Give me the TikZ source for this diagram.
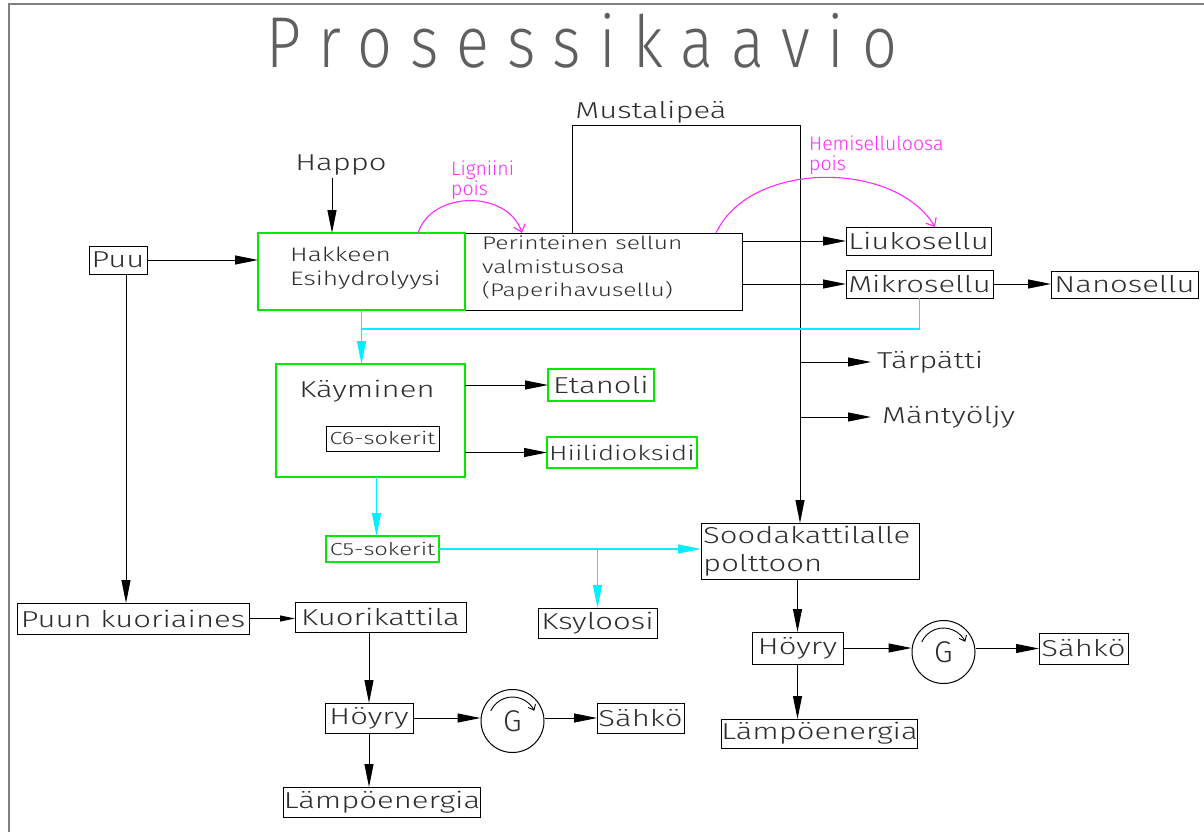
\documentclass[tikz,border=0pt]{standalone}
\usepackage{fontspec}
\setmainfont{Fira Sans Light}[FakeStretch=1.35]
\newfontfamily\pinkfont{Fira Sans Light}
\newfontfamily\titlefont{Fira Sans Light}[FakeStretch=0.85,LetterSpace=25]
\usetikzlibrary{arrows.meta,positioning}

\definecolor{cadgreen}{RGB}{0,235,0}
\definecolor{cadcyan}{RGB}{0,240,255}
\definecolor{cadpink}{RGB}{255,40,255}
\definecolor{cadtext}{RGB}{45,45,45}
\definecolor{cadtitle}{RGB}{95,95,95}

\begin{document}
\begin{tikzpicture}[x=1pt, y=-1pt,
  font=\fontsize{23}{27}\selectfont, text=cadtext,
  box/.style={draw, line width=1pt, inner sep=0pt, outer sep=0pt},
  sz/.style 2 args={minimum width=#1pt, minimum height=#2pt},
  gbox/.style={box, draw=cadgreen, line width=2pt},
  txt/.style={inner sep=0pt, align=left},
  gen/.style={circle, draw, line width=1pt, minimum size=63pt, inner sep=0pt, font=\pinkfont\fontsize{30}{30}\selectfont},
  arr/.style={-{Triangle[length=23pt,width=9pt]}, line width=1pt},
  sarr/.style={-{Triangle[length=15pt,width=6pt]}, line width=1pt},
  cyarr/.style={-{Triangle[length=23pt,width=9pt]}, draw=cadcyan, line width=1.2pt},
  pinkarr/.style={-{Straight Barb[length=7pt,width=12pt]}, draw=cadpink, line width=1.1pt},
  small/.style={font=\fontsize{19.5}{24}\selectfont},
  tiny/.style={font=\fontsize{17.5}{21}\selectfont},
  pink/.style={txt, text=cadpink, font=\pinkfont\fontsize{19.5}{20}\selectfont}
]
\useasboundingbox (0,0) rectangle (1204,832);
\draw[line width=1.2pt, draw=gray] (9,832) -- (9,4) -- (1204,4);

% title
\node[font=\titlefont\fontsize{72}{72}\selectfont, text=cadtitle, anchor=base] (title) at (582,68) {Prosessikaavio};

% pulp line
\node[box, sz={58}{28}] (puu) at (118,260) {Puu};
\node[box, sz={277}{77}] (per) at (603.5,271.5) {};
\node[gbox, sz={207}{77}] (hak) at (361.5,271.5) {};
\node[txt, small, anchor=west] (haktxt) at (290,268) {Hakkeen\\Esihydrolyysi};
\node[txt, font=\fontsize{18.2}{23.5}\selectfont, anchor=west] (pertxt) at (482,268.5) {Perinteinen sellun\\valmistusosa\\(Paperihavusellu)};
\node[anchor=base] (happo) at (341,170) {Happo};
\node[anchor=base] (must) at (651,118) {Mustalipeä};
\coordinate (ml1) at (572,126);
\coordinate (ml2) at (800,126);

\node[box, sz={145}{28}] (liu) at (918.5,241) {Liukosellu};
\node[box, sz={147}{28}] (mik) at (919.5,284) {Mikrosellu};
\node[box, sz={147}{27}] (nano) at (1124.5,284.5) {Nanosellu};

\node[pink, anchor=west] (lig) at (451,180) {Ligniini\\pois};
\node[pink, anchor=west] (hemi) at (809,155) {Hemiselluloosa\\pois};

% recovery boiler
\node[box, sz={218}{56}] (sooda) at (810,551) {};
\node[txt, anchor=west, font=\fontsize{23}{28}\selectfont] (soodatxt) at (703,551) {Soodakattilalle\\polttoon};

\draw[arr] (puu.east) -- (puu.east -| hak.west);
\draw[arr] ([xshift=-9pt]happo.south) -- ([xshift=-9pt]happo.south |- hak.north);
\draw[arr] (per.north -| ml1) -- (ml1) -- (ml2) -- (ml2 |- sooda.north);
\draw[arr] (per.east |- liu) -- (liu.west);
\draw[arr] (per.east |- mik) -- (mik.west);
\draw[arr] (mik.east) -- (mik.east -| nano.west);
\draw[pinkarr] ([xshift=56.5pt]hak.north) .. controls (432,190) and (508,190) .. ([xshift=-81.5pt]per.north);
\draw[pinkarr] ([xshift=112.5pt]per.north) .. controls (750,160) and (895,160) .. ([xshift=16.5pt]liu.north);

% fermentation
\node[gbox, sz={189}{113}] (kay) at (370.5,420.5) {};
\node[anchor=base] (kaytxt) at (367,397) {Käyminen};
\node[box, tiny, sz={113}{25}] (c6) at (382.5,438.5) {C6-sokerit};
\node[gbox, sz={106}{32}] (eta) at (601,385) {Etanoli};
\node[gbox, sz={150}{31}, font=\fontsize{20.5}{24}\selectfont] (hii) at (622,452.5) {Hiilidioksidi};
\node[gbox, tiny, sz={113}{26}] (c5) at (382.5,549) {C5-sokerit};
\node[box, sz={119}{30}] (ksy) at (597.5,623) {Ksyloosi};
\coordinate (cj) at (361.5,329);

\draw[cyarr] (hak.south) -- (hak.south |- kay.north);
\draw[cadcyan, line width=1.2pt] (mik.south) |- (cj);
\draw[arr] (kay.east |- eta) -- (eta.west);
\draw[arr] (kay.east |- hii) -- (hii.west);
\draw[cyarr] ([xshift=-6pt]c5.north |- kay.south) -- ([xshift=-6pt]c5.north);
\draw[cyarr] (c5.east) -- (c5.east -| sooda.west);
\draw[cyarr] (c5.east -| ksy) -- (ksy.north);

\node[txt, anchor=west] (tar) at (877,362) {Tärpätti};
\node[txt, anchor=west] (mant) at (882,417) {Mäntyöljy};
\draw[arr] (tar.west -| ml2) -- ([xshift=-6pt]tar.west);
\draw[arr] (mant.west -| ml2) -- ([xshift=-11pt]mant.west);

\node[box, sz={91}{32}] (hoy2) at (797.5,648) {Höyry};
\node[gen] (g2) at (943.5,652) {\raisebox{-4pt}{G}};
\node[box, sz={89}{31}] (s2) at (1083.5,648.5) {Sähkö};
\node[box, sz={195}{29}] (lam2) at (819.5,733.5) {Lämpöenergia};
\draw[arr] (sooda.south -| hoy2) -- (hoy2.north);
\draw[arr] (hoy2.east) -- (hoy2.east -| g2.west);
\draw[arr] (g2.east |- s2) -- (s2.west);
\draw[arr] (hoy2.south) -- (hoy2.south |- lam2.north);

% bark boiler
\node[box, sz={232}{31}] (kuor) at (133,618.5) {Puun kuoriaines};
\node[box, sz={171}{30}] (kk) at (380.5,617) {Kuorikattila};
\node[box, sz={88}{30}] (hoy1) at (369,718) {Höyry};
\node[gen] (g1) at (512.5,721) {\raisebox{-4pt}{G}};
\node[box, sz={87}{30}] (s1) at (640.5,718) {Sähkö};
\node[box, sz={192}{30}] (lam1) at (382,802) {Lämpöenergia};
\draw[arr] ([xshift=8pt]puu.south) -- ([xshift=8pt]puu.south |- kuor.north);
\draw[sarr] (kuor.east) -- (kuor.east -| kk.west);
\draw[arr] (kk.south -| hoy1) -- (hoy1.north);
\draw[arr] (hoy1.east) -- (hoy1.east -| g1.west);
\draw[arr] (g1.east |- s1) -- (s1.west);
\draw[arr] (hoy1.south) -- (hoy1.south |- lam1.north);

\foreach \g in {g1,g2}
  \draw[line width=0.9pt, -{Straight Barb[length=5pt,width=8pt]}] ([shift={(155:24pt)}]\g.center) arc[start angle=155, end angle=25, radius=24pt];
\end{tikzpicture}
\end{document}
